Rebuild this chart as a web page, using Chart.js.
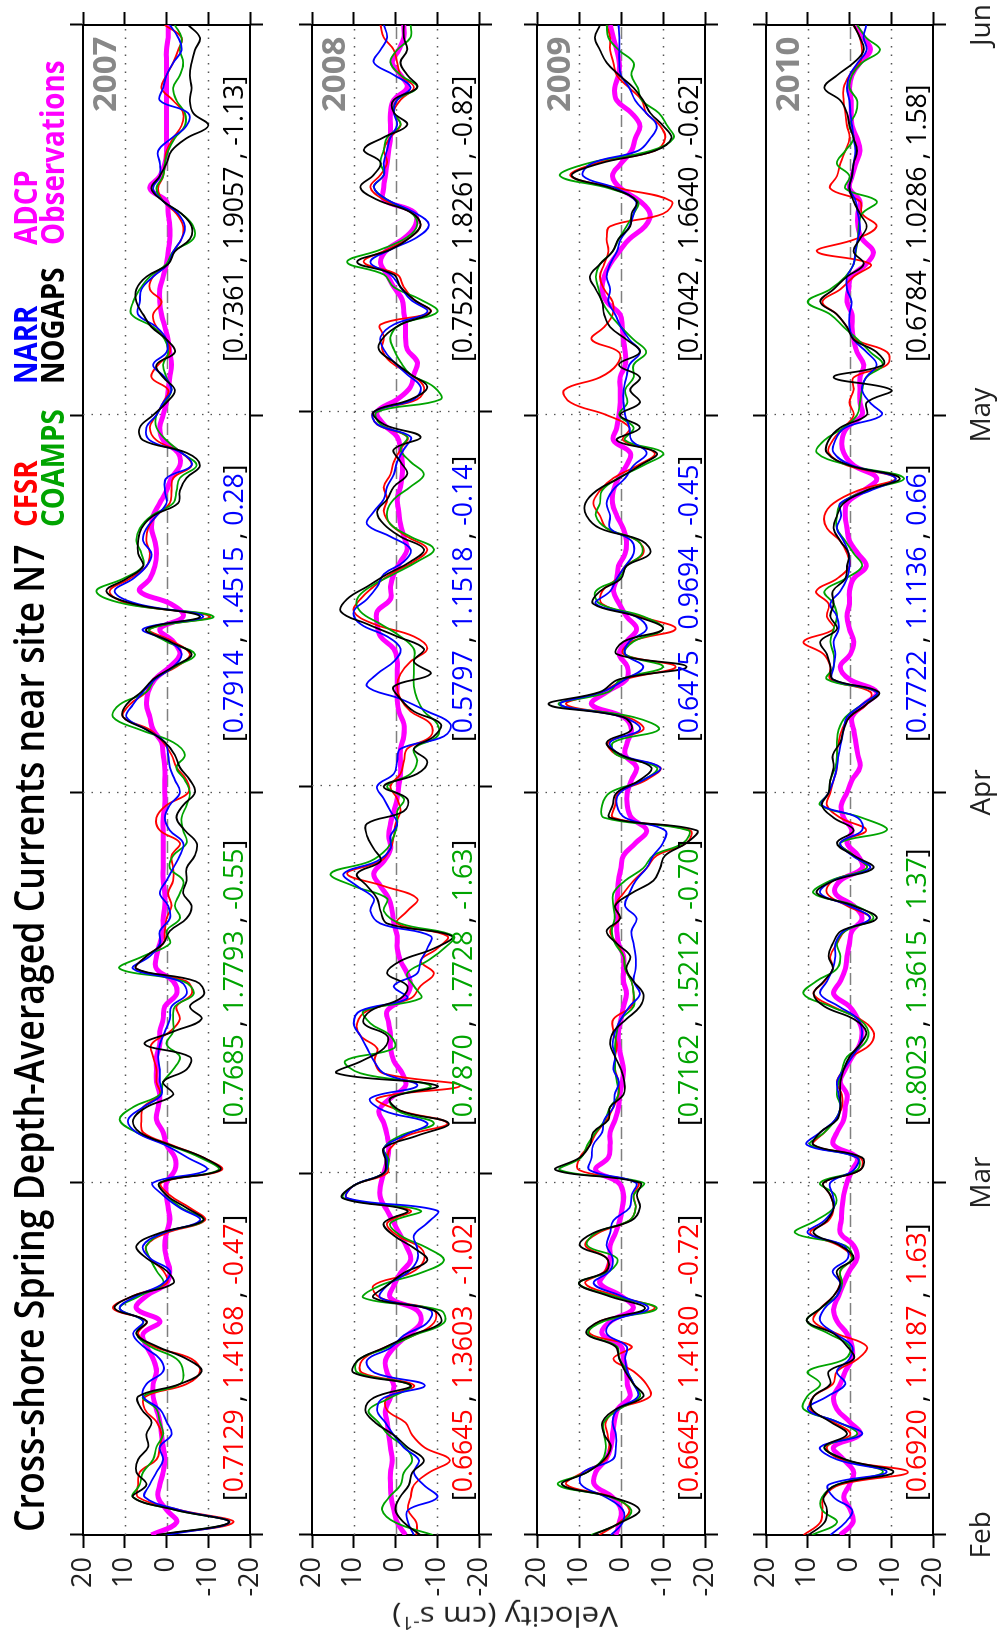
<!DOCTYPE html>
<html>
<head>
<meta charset="utf-8">
<script src="https://cdn.jsdelivr.net/npm/chart.js@4.4.1/dist/chart.umd.min.js"></script>
<style>
  html, body { margin: 0; padding: 0; background: #fff; }
  body { width: 999px; height: 1640px; overflow: hidden; position: relative; }
  #fig { position: absolute; left: 0; top: 0; width: 1640px; height: 999px;
         transform-origin: 0 0; transform: translate(0, 1640px) rotate(-90deg);
         font-family: 'Open Sans', sans-serif; }
  #fig canvas { position: absolute; left: 0; }
  .t { position: absolute; white-space: nowrap; line-height: 1; transform-origin: 0 0; }
</style>
</head>
<body>
<div id="fig"></div>
<script>
// cross-shore depth-averaged velocity (cm/s), one value per day from Feb 1
const panelYears = ['2007', '2008', '2009', '2010'];
const monthNames = ['Feb', 'Mar', 'Apr', 'May', 'Jun'];
const monthStarts = [[0, 28, 59, 89, 120], [0, 29, 60, 90, 121], [0, 28, 59, 89, 120], [0, 28, 59, 89, 120]];
const velocityTicks = [-20, -10, 0, 10, 20];

const nogaps2007 = [2.4, -15, -2, 8, 4.8, 7.2, 6.8, 4.4, 4.8, 3.6, 6, 6.8, -3.2, -8.4, -4.8, 2.4, 7.2, 4.8, 12.4, 8, -1.6, 0, 4.8, 7.2, 1.6, -8.8, -4.8, 0, 1.6, -12.8, -8.8, -0.8, 6.4, 8, 4.8, -1.6, 0.8, -4.8, -5.6, 5.2, -1.6, -8.4, -5.6, -9, -7, 7.2, 4.8, 0.8, -0.8, -4.8, -6, -4, -4.8, -4.8, -6.8, -7.2, -4.4, -2.4, -4, -6.8, -5.6, -3.2, -2, 0.4, 4.8, 10.4, 9.6, 6, 3.2, -1.6, -6, -0.8, 4.8, -8, 8, 14.4, 9.6, 5.6, 6.8, 6.8, 6, 3.2, -2.8, -3.2, -4.8, -8, -4.8, 5.6, 6.4, 3.2, 0, -2, 0.8, 2.4, -2, 0, 3.6, 5.6, 7.2, 7.2, 4.8, -0.4, -2, -5.6, -6, -3.6, 0.8, 3.6, 1.6, 0, -1.2, -4.8, -10, -6.4, -5.6, -6, -5.6, -6, -6.8, -8, -5.2];
const cfsr2007 = [1.6, -16, -3, 6.8, 6.8, 6.4, 2.4, 1.6, 1.2, 2.4, 5.2, 5, -4.8, -8, -6, 3.2, 6.8, 4.8, 12.8, 8, 0, 0.8, 4, 4.8, 0, -9.2, -5.6, -0.8, 1.2, -13.2, -8.8, -1.2, 5.6, 6, 5.6, 1.6, 2.4, 2.4, 3.2, 3.6, -0.8, -3.2, -2.4, -6, -4.8, 7.2, 4.8, 0.8, 0.4, 0, -1.2, -0.4, -1.6, -1.6, -1.2, -3.2, 1.6, 2.4, 0, -5.2, -4.8, -2.4, -1.2, 0.8, 4, 10.4, 8.8, 4.8, 3.2, -2.4, -5.6, -1.6, 4, -10.4, 9, 13.6, 8.8, 4.8, 4, 4.8, 4.4, 2.4, -0.8, -1.2, -1.6, -6, -3.6, 2.4, 4, 2.4, 0.8, -0.4, 3.6, 2, -0.8, 0, 2.4, 3.2, 1.2, 4, 3.2, -0.4, -1.6, -3.6, -4, -2.4, 0.8, 2, 0.8, 0.4, 0, -1.6, -3.6, -4, -1.6, 1.2, 0, -1.6, -2.8, -3.6, 0.4];
const coamps2007 = [1.6, -15, -2, 8, 6.4, 5.6, 3.2, 2.4, 0.8, 1.6, 2.4, 5.6, -3.2, -4, -2.4, 4, 7.2, 5.6, 11.2, 6.4, 0.8, 2.4, 4, 4.8, 0.8, -8.8, -3.6, 0, 1.6, -12.4, -8, -0.4, 7.2, 11.2, 8, 1.6, 0.8, -1.6, -3.2, 0, -1.6, -1.6, -2, -6.5, -4, 11.2, 5.6, -0.8, 0, -3.2, -2, -3.2, -4, -0.8, -1.6, -4.8, -4, -3.6, -4.8, -5.6, -4.4, -2.4, -4.4, -1.6, 6.4, 12.8, 11.2, 4.8, 2.8, -2, -6.8, 0, 4, -11.2, 10, 16.8, 10.4, 5.6, 6, 7.2, 6.4, 3.6, -1.6, -2.4, -3.2, -7.2, -3.6, 0, 2.4, 2.4, 0.4, -1.2, 0, 0.8, -0.4, 0.4, 3.2, 8.4, 8, 6.4, 4, 0, -1.6, -6.4, -6.4, -3.6, 0.8, 2.4, 0.8, 0.4, -0.4, -2, -4.4, -4.4, -2.4, -1.6, -3.2, -4, -3.2, -3.6, -2];
const narr2007 = [0, -15, -3, 5.2, 4, 2.4, 0.8, 1.6, -1.2, 0, 1.6, 5.6, 4.8, 0.8, 1.6, 5.6, 8, 5.6, 11.2, 7.2, 0.8, -0.8, 4, 5.6, 0.8, -8, -3.2, 0.8, 3.2, -9.6, -5, 0.4, 7.2, 9.2, 5.6, 1.2, 1.6, 1.6, 2, 1.6, 0.4, -0.8, -1.2, -4.8, -3.2, 8, 4, 1.6, 1.6, -0.8, -0.4, 1.6, 0, -1.6, -3.2, -4, -0.8, 0.4, -0.8, -3.2, -2, -0.8, -0.4, 0.4, 4.8, 9.6, 8, 5.6, 2.8, -1.6, -3.6, -0.8, 5.6, -8.8, 7, 12.4, 8, 4.8, 3.6, 5.6, 4.8, 2.4, 0, 0.4, 0, -6, -3.6, 4, 4.8, 2.4, 0.8, -1.2, 0.4, 3.2, 0, 0, 2.4, 6.8, 6.4, 6, 3.2, -0.4, -1.6, -3.6, -4.4, -2.8, 0.8, 3.2, 1.6, 1.6, 2, -1.2, -4.8, -5.2, 1.6, 0.8, 0, -1.6, -3.6, -2.8, -0.8];
const obs2007 = [3.6, -2.4, 0, 2, 1.6, 0.8, 0.4, 0.8, 1.2, 1.6, 2.4, 3.2, 3.2, 2.4, 3.2, 4.8, 5.6, 1.6, 7.2, 4.8, 0, -0.8, 0, 0.4, 0, -0.8, -0.4, 0, 0, -2, -2, 0, 0.8, 2.4, 2, 1.6, 2.4, 2.4, 2.4, 1.6, 1.6, 0.8, 0.4, -2.4, -1.6, 2.4, 2.4, 1.6, 0.8, 0.8, 0.4, 0.4, 0.8, 0.8, 0.8, 0.8, 0.8, 0.8, 0.4, 0.4, 0.4, 0.4, 0.8, 1.2, 3.2, 4, 4.8, 4.4, 2.8, -0.8, -3.2, -1.6, 1.6, -4, -1, 6.4, 4, 2.8, 2.4, 2.8, 3.6, 3.2, 1.6, 0, -1.2, -3.2, -2.8, 0.8, 1.6, 0.8, 0, -0.4, -0.8, -1.2, -0.8, -0.4, 0.4, 1.2, 1.6, 1.6, 0.8, 0, -0.4, -0.8, -0.8, -0.4, 0, 4, 1.6, 0.4, 0, 0, 0, 0, 0, 0, 0, 0, 0, -0.4, -0.4];

const nogaps2008 = [-6, -2, 0, -1, -3.2, -4, -6.8, -3, 0.4, 4.8, 7.2, 5.2, -3.6, 10, 9, 2.8, -3.6, -10.8, -9.2, 5.2, 2, -2, -7.6, -4.4, 0.4, 2.8, -2.8, 12.7, 10, 2.8, 2.4, 2.8, -5.2, -12.7, -1.2, 1.2, -10, 14, 8, 2.8, 2, 7.6, 6, -1.2, -2.8, 2, -1.2, -9.2, -13.5, 2, 3.6, 4.4, 6.8, 9.2, 3.6, 5.2, 6.8, 6.8, -2, -2.8, 2.8, -5.2, -7.6, -4.4, -9.2, -10.8, -4.4, -1.2, 0.4, -8.4, -4.4, -6.8, -0.4, 6.8, 13.1, 11.6, 6.8, 2, -3.6, -6.8, -1.2, 2.8, 4.4, 2, 0.4, -2.8, -1.2, 0.4, -6, 2.8, 5.2, -3.6, -7.6, -3.6, 0.4, 4, 2.8, -1.2, -8.4, -4.4, -1.2, 0.4, 9.2, 1.2, -3.6, -6, -3.6, 4.4, 8.4, 5.2, 3.6, 7.6, 2.8, -2.8, 0.4, 0.4, -5.2, -2.8, -1.2, -2.8, -2, -2];
const cfsr2008 = [-5, -5, -3, -3.6, -4.4, -8, -13, -7, -4, -2.4, 2, 2, -4.4, 8, 8, 2.8, -4.4, -9.2, -9.2, 3.6, 5.2, -3.6, -6.8, -6, -0.4, 2, -3.6, 11.6, 10, 2, 2, 1.2, -2.8, -12.4, -1.2, 4.4, -15.5, 3, 5, 4.4, 8.4, 9.2, 6.8, -3.6, -6, -9.2, -6, -10, -12.4, -0.4, -2.8, -5.2, 2.8, 11.6, 3.6, 1.2, 0.4, 0, -1.2, -0.4, 1.2, -1.2, -2, -2.8, -8.4, -8.4, -3.6, -1.2, -0.4, -1.2, -3.6, -7.6, -4.4, 5.2, 10, 8.4, 5.2, 1.2, -4.4, -7.6, -2.8, 1.2, 2.8, 2, 2.8, 1.2, 0.4, -1.2, -2.8, 4.4, 5.2, -5.2, -6.8, -3.6, 1.2, 3.2, 2.8, 3.6, -8.4, -4.4, -2, -0.4, 7.6, 2, -3.6, -6, -3.6, 2.8, 6, 3.6, 2, 2.8, 1.2, -1.2, 0.4, -1.2, -4.4, -1.2, -0.4, 0.4, 2.8, 3.6];
const coamps2008 = [-9, 0, 3.2, 1.6, -1.2, -2, -4, -2.4, 1.6, 4, 6.4, 1.2, -3.6, 9, 9, 2, -4.4, -11.6, -10.8, 7.6, 3.6, -6, -11.6, -7.6, -1.2, 1.2, -6, 12.4, 10, 2.8, 1.6, 2.8, -1.2, -9.2, -0.4, 1.2, -8.4, 8.4, 12, 0.4, 1.2, 6, 7.6, -6, -4.4, -2.8, -7.6, -11.6, -13.9, -1.2, 2.8, 2, 10, 15.5, 6, 2, 0.4, -0.4, -0.4, -2, 2, -3.6, -5.2, -4.4, -10, -10, -6.8, -5.2, -4.4, -4.4, -4.4, -4.4, -1.2, 3.6, 8.4, 9.2, 6, 0.4, -5.2, -9.2, -3.6, 1.2, 2, 0.4, -3.6, -6.8, -3.6, -1.2, -2.8, 3.6, 4.4, -10.8, -9.2, -3.6, -1.2, 0.4, 1.2, -1.2, -10, -6, 0.4, 2.8, 11.6, 3.6, -2.8, -5.2, -3.6, 2, 5.2, 2.8, 3.6, 2.8, 2, -1.2, 0.4, -0.4, -5.2, -1.2, 1.2, -0.4, -3.6, -3.6];
const narr2008 = [-4.4, -3, -3, -10, -6.8, -4.4, -5.6, -2, 0.4, 2.4, 4.4, 2.8, -7, 5, 6.8, 1.2, -2, -7.6, -8.4, 3.6, 2, -2.8, -5.2, -5.2, -4.4, -7.6, -10, 11.6, 10, 2.8, 2, 2.8, -2, -7.6, 2.8, 6, -5.2, 2.8, 5.2, 6.8, 8.4, 10, 8.4, -2.8, 0.4, -5.2, -6, -7.6, -8.4, 3.6, 6, 5.2, 9.2, 12.4, 4.4, 1.2, 1.2, -0.4, 1.2, 2.8, 4.4, 0.4, -0.4, -1.2, -11.6, -13.1, -7.6, -1.2, 6.8, 4.4, 0.4, -1.2, 2, 8.4, 10, 6.8, 4.4, 2.8, -2, -3.6, 1.2, 6.8, 5.2, 2.8, 2, 0.4, -0.4, -2, -3.6, 4.4, 5.2, -4.4, -6, -2.8, 0.4, 2.8, 3.6, 0.4, -7.6, -3.6, -1.2, 1.2, 6, 1.2, -5.2, -8, -4.4, 2, 5.2, 2.8, 2.8, 2, 1.2, -0.4, 0.4, -0.4, -3.6, 0.4, 5.2, 3.6, 2, 2.8];
const obs2008 = [-2.4, -0.4, 0.4, 1, 1.2, 1.2, 0.8, 1.2, 1.6, 2, 2.4, 1.2, 0.4, 2, 2.4, 0.4, -2.8, -6, -5.2, 1.2, 0.4, -1.2, -3.6, -2.8, -1.2, 0.4, 2, 3.6, 3.6, 2.8, 2, 1.6, 2, 2.8, 4, 1.2, -2.4, -1.6, 0.4, 1.2, 1.2, 1.6, 2, -2, -3.6, -2.8, -1.2, -0.4, -0.4, 0.4, 0.8, 1.6, 3.6, 5.2, 2.8, 1.2, 1.6, 1.2, 0.4, -0.4, -0.8, -1.2, -1.2, -1.2, -2, -2, -0.8, -0.4, -0.4, -0.4, -0.4, 0.4, 3.6, 4.4, 4.4, 1.2, 1.2, 0.4, -1.2, -2.8, -2, -1.2, -0.8, -0.4, -1.2, -1.6, -1.6, -1.2, -0.4, 2.8, 4.4, -0.4, -3.6, -4.4, -5.2, -2.8, -2.4, -2.4, -2, -1.6, 0.4, 2, 3.6, 2, -2.4, -4.8, -4.4, 2.8, 2.8, 2.4, 2, 1.6, 1.2, 1.2, 1.2, 0.4, -2.8, -1.2, 0.8, -0.8, -2, -2];

const nogaps2009 = [6.7, 0, -4.4, 2, 14, 8, 4, 2.4, 4, 4.4, 1.2, -5.3, -3, -1, 0.4, 1.4, 8.2, 5, -5.7, 3, 10, 3.4, 3.4, 9.8, 6.6, -2.5, -4.5, -3.8, -4.5, 15.5, 9.8, 7.4, 6.6, 3, 2.6, -0.6, -0.8, 0, 1.4, 2.6, 1.8, -1.3, -4.5, -5.3, -3, -1.3, -2.2, 1, 3.4, 0.2, 1.4, -2.5, -7.7, -9.3, -10.5, -15.6, -18, 2.6, 2, 1, -4.5, -7.2, 0, 3.4, -2.5, -0.5, 17.2, 5, 0.5, -15.6, 1, -0.6, -10, -3.7, 6.6, 5, 0, -1.3, -6.9, -5, 5, 8.2, 8.5, 5.8, 0.4, -4.5, -8.5, 1, -4.5, 0.2, -4.5, -2.2, -4.5, 0.5, -4.5, -1.3, 2.6, 4, 4.5, 6, 7.4, 5, 2, 0.6, -2.2, -2.5, -3.7, 2, 11.7, 5, -8, -12, -10, -7, -5.3, -3, 0.4, 3.4, 5, 6.2, 5];
const cfsr2009 = [5.2, 0.4, -2, 2, 13, 9, 3.6, 2.8, 3.2, 3.6, 0.8, -6.9, -6, -3, 1.8, -2.5, 7.4, 5, -8, 1, 8.5, 3.8, 3.4, 8.5, 5.4, -2, -3.5, -3, -4, 10, 9.8, 7.4, 5.8, 3.4, 1.8, 0.6, 0.6, 1.4, 1.4, 1, 1.8, 1.8, -2.5, -3, -2.5, -1, -0.6, 1, 2.6, 0.4, 1.4, -0.6, -3, -6.1, -8.5, -15.6, -16.4, 1.8, 1.4, 0.6, -6, -9.3, 1, 3, -5.3, -1.5, 13, 4.5, -1, -13, -0.6, -2.5, -13, -4.5, 4.5, 4.5, 1, -1, -5.3, -4, 3.4, 5, 6.6, 5, 1.8, -4, -8, -0.5, -2, 3.4, 12, 13.5, 5, 1, 0.5, 7, 4, 2, 2, 4, 5, 4, 3, 3.4, 2.6, -10, -12, 0, 12, 6, -8, -10.5, -9.3, -6, -5, -2, 1, 1.8, 2.6, 2.6, 3.4];
const coamps2009 = [7.1, 0, -2.4, 2.4, 15, 8, 4.4, 3.6, 4, 4, 0.4, -4.5, -3, -1.5, 0.4, 1, 7.8, 4, -8.5, 2, 10, 2.6, 1, 8, 6, -2, -3.5, -3, -5.3, 14.5, 9.5, 8, 6, 3.8, 2.6, 0.6, 1, 1.4, 1.4, 1.4, 1, 0, -3, -3, -2.5, -1, -0.6, 1.4, 2.2, 1.5, 1.8, 1.8, -1, -5.3, -7.7, -14.8, -16, 4, 4.5, 2.6, -5.3, -8.5, 1, 1.8, -9, -3, 14.8, 3, 0, -10, -1, -3, -10, -5.3, 5, 6, 0.5, -1.3, -5, -4, 3.4, 6, 5, 4.5, 0.6, -5.3, -10, -1, -3, 0.4, -1.5, -1, -3, -3, -6, -3, 0, 2.6, 4.5, 5.3, 6, 5, 2, 0.5, -1.3, -3, -4, 2.6, 14.5, 8, -7, -12.5, -11, -9, -5, -4, -2.5, -3, 0.5, 3, 3.4];
const narr2009 = [2.4, -0.4, -0.4, 3.6, 9.5, 9, 2, 1.2, 1.2, 2, 0.8, -4, -3, -1.5, -1, -1.3, 3.4, 2, -6.5, 0, 6.5, 2.6, 2, 3.4, 2.6, 1.8, -2, -2.5, -3.5, 7.5, 7, 6.6, 4.5, 4, 1.8, 1.5, 0.5, 1.8, 1.4, 2, 1.4, 0, -2, -4.5, -3, -3.5, -3.5, -3, -2.5, -3.7, -1, -2, -3.5, -6.1, -7.7, -10, -10.5, -1, 1, 0.2, -5.3, -9.3, 0, 2.6, -4.5, -0.5, 14.4, 4.5, -1, -5.3, -1, -2, -6.1, -3.5, 6, 2.6, 1, -1, -3, -2.5, 2.6, 2.6, 3.4, 2, -1, -3, -6.1, -2.5, -2, -1, -0.6, -0.6, -1.3, -2, -4.5, -2, 0, 1.4, 3, 2.6, 3.4, 2.6, 1, 0, -2, -3, -3.5, 1, 9, 7, -4, -7, -8.5, -6, -3.4, -2, 0, 0.4, 0.4, 0.4, 0.6];
const obs2009 = [1.2, 0.4, 0, 2, 6.3, 6, 3.6, 2.4, 2, 1.6, 0.8, -2.1, -1.5, -1.3, -0.6, 0, 4.5, 2.4, -2.9, 0, 5, 3.4, 2.6, 2.6, 1.3, 0.3, -0.3, -0.6, 0.6, 6, 3, 2.6, 2.6, 1.4, 0.6, 0.3, -0.3, -0.6, 0, 0.6, 0.6, 0, -0.6, -1.3, -0.6, -0.6, -0.6, 0.6, 1, 1, 1, 0.8, 0.6, 0, -0.6, -3.5, -6.1, -2.5, -1.5, -1.5, -2.5, -3.7, -1, -1.5, -2.5, -0.6, 7, 3.4, -1.3, -1.5, 0.4, -1.3, -3.7, -1.3, 0.4, 1.8, 1, 0.6, -1, -1.3, -0.5, 1, 2, 1.8, 0.6, -1.3, -2.2, 1.8, 1, 0.5, 0.2, 0.2, 0.2, -1, -1, -0.6, -0.3, 0.2, 3.4, 4.5, 4, 2.6, 0.4, -2, -5.7, -6.9, -4.5, 0, 2, 0, -2.5, -3.4, -4.5, -2.5, 1, 1.5, 0.6, 0.4, 1, 1.8, 2.6];

const nogaps2010 = [9.8, 6, 5.4, 6.2, 3, -10.5, 1, 6, 0.6, 4.6, 9, 8.6, 4.6, 5, -1, 0.6, 3.8, 10.2, 7, 3.8, 2.2, 3, -1, 2.2, 8.6, 5.4, 3.8, 4.6, 6.2, -2.5, -3, 8.6, 7, 3, 2.2, 2.2, 2.2, 1.4, 0, -2.5, -4, -1, 6, 8.6, 6.2, 4, 5, 4, 2, -6.5, -1, 7.8, 3.8, -5.7, -1, 3, -1, 3.8, 6.6, 5, 4.6, 3.8, 4, 2.2, 1.4, 0, -4, -7, 4, 4.6, 5.4, 7, 3, 4.6, 3.8, 4, 1, 0.6, 0.2, 2.2, 3.8, 3, 1.4, -4, -12, 0, 5.4, 5, 2.2, -4.1, -4.1, -10, 3.8, -8.1, -6.5, -1, 0.6, 3, 7, 3.8, 0.6, -3.4, -1, -2.5, -4.1, -2.5, -1, 0, -0.6, -1, -1.8, -1, 0, 0.6, 2.2, 6, 3, -1, -3.4, -2.5, -1];
const cfsr2010 = [11, 7, 6.5, 6.2, 2.2, -14, 2, 5.4, -0.2, 4, 9.4, 8.6, 4, 3, -2, -4.1, 3, 8.6, 7, 3.8, 2.2, 2.2, -0.6, 2.6, 9.4, 5, 3.8, 4.6, 6.2, -2.5, -2.5, 8.6, 6, 3.4, 1.8, 1.8, 3, 1.4, -0.6, -5, -5.7, -2.5, 4, 8.6, 6, 4, 4.6, 3, 1, -5, 0.6, 5.4, 4, -4.1, -1, 2.2, -4, 2.2, 5.4, 4.6, 3.8, 3, 3, 2.6, 1.8, 0, -4.1, -5, 4.6, 4.6, 6.2, 11, 3.8, 5.4, 5, 8, 3, 0, 0.6, 2.2, 5.4, 6, 3.8, -2, -11, 0.6, 5, 4, 1.4, -1, 0, -1, -1, -9, -9, -1.5, 0.6, 3, 6.5, 2.2, -1, -5, 7.8, -1.5, -6.5, -3, -2.5, 4.6, 3, 2.2, 1, 0, 0.6, 1, 1.4, 1.4, 0, -2.5, -3, -2.5, -1];
const coamps2010 = [9, 3, 6.6, 6.6, 3, -8, 1, 6, -1.8, 3, 11, 10.2, 7, 10, 1, 0, 5, 10.2, 7, 3, 1.8, 2.2, -0.6, 1, 13, 8, 3.8, 3.4, 7, -1.8, -1.8, 9.4, 6, 3.4, 2.2, 3, 2.6, 1.8, 0.6, -3.4, -4.5, -2.2, 4.5, 11, 8, 3, 2.2, 3, 1, -5.7, -1.5, 8.6, 4.6, -4.1, -1, 2.2, -8.9, -3, 7, 5, 4.6, 3.4, 3, 3, 2.6, 1, -3, -6.5, 5.4, 3.8, 3.8, 4.6, 3.8, 3, 3.8, 6, 1, -3, -1, 1, 3, 3, 2, -4, -13, 0, 7.8, 6, 1.4, -1.8, -2.5, -3, -4, -8, -5, -2, 1.4, 4.6, 10, 4.6, 1, -1, -1.5, -2, -2.2, -3, -6.5, 1, 0, 3, 1, -1, 0, -1.5, -1.8, 0, -0.6, -3, -7.3, -4, -1.8];
const narr2010 = [4.6, 1, -0.6, 3.8, 5, -8.9, 3, 7, -3, 3, 10, 5.4, 1, 3, 0, -0.6, 3.4, 7, 6, 3, 2.2, 4, 0.4, 1.4, 10, 6, 3.8, 4, 4.6, -1, -1.8, 10.2, 7, 3.4, 2.2, 2.6, 3, 1.4, -0.6, -2.5, -3, -2, 2.5, 7, 5.4, 4, 3.4, 3.4, 1.4, -4.9, 0, 7, 4, -4.9, -0.6, 2.2, -3, -2, 6.6, 5, 3.8, 3, 2.6, 2, 1.4, 0.6, -3, -6.5, 4, 3.8, 3.4, 3.8, 2.6, 3, 4.6, 2.2, 0.6, 0, 0.2, 1.4, 3, 2, 2.2, -5, -11, -0.6, 3.8, 3.4, 1, -7.7, -4.9, -3, -4, -6.5, -4.1, -1, 0, 0, -0.5, 0.6, 0.6, -1, -1.4, -2, -2.5, -2, -1.5, 0, -0.6, -1, -1.4, -1, -0.6, -0.2, 0, 0.6, 0, -2, -4.1, -3.4, -4];
const obs2010 = [2.2, -0.8, -0.2, 1.4, 0, -1, 1.4, 3.8, -2.5, 0, 3, 3.8, 2.2, 1, -0.6, -0.6, 0.6, 3, 3.8, 2.6, 1.4, 0, -1.8, -1, 2.2, 2, 1.8, 1.4, 0.6, -0.6, -1.8, 3.8, 3, 1.4, 1, 0.6, 2.2, 1, -0.6, -2.5, -3, -2, 0, 3.8, 2.2, 1, 0.6, 0, -0.6, -3, -1, 3.4, 2.2, -3, -2, 0.6, -0.6, 1.4, 2, 0.6, -0.6, -2.5, -2, -1.5, -1, -0.6, -3.5, -6.5, 0, 2.2, -0.2, -1, 0, 0.6, 0, 0, -1, -4, -2, 0, 0.6, 1, 0.6, -3.4, -6.5, -1, 1.4, 1.8, 0.6, -3, -2.5, -2.5, -2.5, -3.4, -1.8, -1, -0.6, -0.6, 0.6, 0.2, -0.4, -4, -5.7, -3, -2, -2, -2.5, 0, -0.6, -1.5, -2.5, -1.8, -0.6, -0.4, -0.4, 0, -0.6, -2.5, -5, -3.4, -1.4];

// [correlation, std ratio, bias] printed in each panel
const statsCFSR = [['0.7129', '1.4168', '-0.47'], ['0.6645', '1.3603', '-1.02'], ['0.6645', '1.4180', '-0.72'], ['0.6920', '1.1187', '1.63']];
const statsCOAMPS = [['0.7685', '1.7793', '-0.55'], ['0.7870', '1.7728', '-1.63'], ['0.7162', '1.5212', '-0.70'], ['0.8023', '1.3615', '1.37']];
const statsNARR = [['0.7914', '1.4515', '0.28'], ['0.5797', '1.1518', '-0.14'], ['0.6475', '0.9694', '-0.45'], ['0.7722', '1.1136', '0.66']];
const statsNOGAPS = [['0.7361', '1.9057', '-1.13'], ['0.7522', '1.8261', '-0.82'], ['0.7042', '1.6640', '-0.62'], ['0.6784', '1.0286', '1.58']];

const nogaps = [nogaps2007, nogaps2008, nogaps2009, nogaps2010];
const cfsr = [cfsr2007, cfsr2008, cfsr2009, cfsr2010];
const coamps = [coamps2007, coamps2008, coamps2009, coamps2010];
const narr = [narr2007, narr2008, narr2009, narr2010];
const obs = [obs2007, obs2008, obs2009, obs2010];

const RED = '#ff0000', GREEN = '#00a400', BLUE = '#0000ff', BLACK = '#000000', MAGENTA = '#ff00ff';

// layout, in the unrotated figure (1640 wide, 999 tall)
const panelTop = [83, 312, 537, 766];
const panelBottom = [250, 479, 705, 933];
const plotLeft = 105, plotRight = 1615;
const pad = 40;

Chart.defaults.font.family = "'Open Sans', sans-serif";
const fig = document.getElementById('fig');

function addText(html, u, base, size, opt) {
  const el = document.createElement('div');
  el.className = 't';
  el.innerHTML = html;
  el.style.fontSize = size + 'px';
  el.style.fontWeight = opt.weight || 400;
  el.style.color = opt.color || '#000';
  el.style.top = (base - 0.888 * size) + 'px';
  el.style.left = '0px';
  fig.appendChild(el);
  const w = el.offsetWidth;
  const sx = opt.width ? opt.width / w : (opt.sx || 1);
  let left = u;
  if (opt.align === 'right') left = u - w * sx;
  if (opt.align === 'center') left = u - w * sx / 2;
  el.style.left = left + 'px';
  el.style.transform = 'scaleX(' + sx + ')';
  return el;
}

const gridPlugin = {
  id: 'panelGrid',
  beforeDatasetsDraw(chart, args, opts) {
    const { ctx, chartArea: a } = chart;
    const x = chart.scales.x, y = chart.scales.y;
    const seg = (x1, y1, x2, y2) => { ctx.beginPath(); ctx.moveTo(x1, y1); ctx.lineTo(x2, y2); ctx.stroke(); };
    ctx.save();
    ctx.lineWidth = 1.3;
    ctx.strokeStyle = '#555';
    ctx.setLineDash([1.5, 7]);
    opts.months.slice(1, -1).forEach(d => {
      const px = Math.round(x.getPixelForValue(d)) + 0.5;
      seg(px, a.top, px, a.bottom);
    });
    [-10, 10].forEach(v => {
      const py = Math.round(y.getPixelForValue(v)) + 0.5;
      seg(a.left, py, a.right, py);
    });
    ctx.strokeStyle = '#808080';
    ctx.lineWidth = 1.5;
    ctx.setLineDash([12, 4, 2, 4]);
    const pz = Math.round(y.getPixelForValue(0)) + 0.5;
    seg(a.left, pz, a.right, pz);
    ctx.restore();
  }
};

function line(label, data, color, width) {
  return { label, data, borderColor: color, borderWidth: width, pointRadius: 0, tension: 0.4, fill: false };
}

function makePanel(p) {
  const T = panelTop[p], B = panelBottom[p];
  const months = monthStarts[p];
  const cv = document.createElement('canvas');
  cv.width = 1640;
  cv.height = B - T + 2 * pad;
  cv.style.top = (T - pad) + 'px';
  fig.appendChild(cv);

  const frame = { color: '#000', width: 2 };
  const marks = { drawOnChartArea: false, tickLength: 13, tickWidth: 2, tickColor: '#000' };
  const monthTicks = s => { s.ticks = months.map(v => ({ value: v })); };
  const velTicks = s => { s.ticks = velocityTicks.map(v => ({ value: v })); };
  const tickFont = { family: "'Open Sans', sans-serif", size: 27 };

  return new Chart(cv, {
    type: 'line',
    data: {
      labels: nogaps[p].map((_, i) => i),
      datasets: [
        line('NOGAPS', nogaps[p], BLACK, 1.8),
        line('NARR', narr[p], BLUE, 1.8),
        line('COAMPS', coamps[p], GREEN, 1.8),
        line('CFSR', cfsr[p], RED, 1.8),
        line('ADCP Observations', obs[p], MAGENTA, 5)
      ]
    },
    options: {
      responsive: false,
      animation: false,
      devicePixelRatio: 1,
      events: [],
      layout: { padding: 0, autoPadding: false },
      plugins: { legend: { display: false }, tooltip: { enabled: false }, panelGrid: { months } },
      scales: {
        x: {
          type: 'linear', position: 'bottom', min: months[0], max: months[4],
          afterBuildTicks: monthTicks,
          afterFit: s => { s.height = pad; },
          ticks: { display: false }, grid: marks, border: frame
        },
        x2: {
          type: 'linear', position: 'top', min: months[0], max: months[4],
          afterBuildTicks: monthTicks,
          afterFit: s => { s.height = pad; },
          ticks: { display: false }, grid: marks, border: frame
        },
        y: {
          type: 'linear', position: 'left', min: -20, max: 20,
          afterBuildTicks: velTicks,
          afterFit: s => { s.width = plotLeft; },
          ticks: { padding: 9, color: '#222', font: tickFont, callback: v => String(v) },
          grid: marks, border: frame
        },
        y2: {
          type: 'linear', position: 'right', min: -20, max: 20,
          afterBuildTicks: velTicks,
          afterFit: s => { s.width = 1640 - plotRight; },
          ticks: { display: false }, grid: marks, border: frame
        }
      }
    },
    plugins: [gridPlugin]
  });
}

const charts = panelYears.map((_, p) => makePanel(p));

// month names under the bottom panel, placed on its time scale
const lastIdx = charts.length - 1;
const timeScale = charts[lastIdx].scales.x;
monthStarts[lastIdx].forEach((d, i) => {
  addText(monthNames[i], timeScale.getPixelForValue(d), 990, 28, { color: '#222', align: 'center' });
});

// title and legend
addText('Cross-shore Spring Depth-Averaged Currents near site N7', 108, 44, 42, { weight: 600, width: 988 });
const legendRows = [
  ['CFSR', RED, 1113, 37], ['COAMPS', GREEN, 1113, 64],
  ['NARR', BLUE, 1256, 37], ['NOGAPS', BLACK, 1256, 64],
  ['ADCP', MAGENTA, 1395, 37], ['Observations', MAGENTA, 1395, 64]
];
legendRows.forEach(r => addText(r[0], r[2], r[3], 33, { weight: 700, color: r[1], sx: 0.84 }));

// per-panel year and statistics
const statStarts = [139, 514, 898, 1278];
const statSets = [[statsCFSR, RED], [statsCOAMPS, GREEN], [statsNARR, BLUE], [statsNOGAPS, BLACK]];
panelYears.forEach((yr, p) => {
  addText(yr, 1603, panelTop[p] + 33, 33, { weight: 700, color: '#888', align: 'right' });
  statSets.forEach(([stats, col], k) => {
    const v = stats[p].map(s => '<span style="color:' + col + '">' + s + '</span>');
    addText('[' + v.join(' , ') + ']', statStarts[k], panelBottom[p] - 7, 28, { sx: 0.95 });
  });
});

// velocity axis title, reading upward
(function () {
  const size = 28;
  const el = document.createElement('div');
  el.className = 't';
  el.style.fontSize = size + 'px';
  el.style.color = '#222';
  el.innerHTML = 'Velocity (cm s<span style="font-size:0.65em;position:relative;top:-0.55em">-1</span>)';
  el.style.left = '0px';
  el.style.top = '0px';
  fig.appendChild(el);
  const w = el.offsetWidth;
  const sx = 226 / w;
  const X = 33 - 0.888 * size, Y = 505 + 113;
  el.style.transform = 'translate(' + X + 'px,' + Y + 'px) rotate(-90deg) scaleX(' + sx + ')';
})();
</script>
</body>
</html>
